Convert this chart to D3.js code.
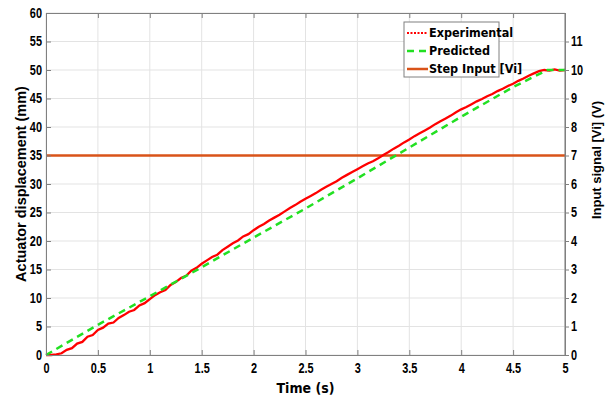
<!DOCTYPE html>
<head>
  <meta charset="utf-8">
  <script src="https://d3js.org/d3.v7.min.js"></script>
  <style>
    body { margin:0; background:#fff; }
    svg { display:block; }
    .tick text { font-family:"Liberation Sans",Arial,sans-serif; font-weight:bold; font-size:14px; fill:#000; }
    .lbl { font-family:"Liberation Sans","Arial",sans-serif; font-weight:bold; }
    .leg { font-family:"DejaVu Sans Condensed","Liberation Sans Narrow",sans-serif; font-weight:bold; font-size:12.5px; }
  </style>
</head>
<body>
<script>
var width = 610, height = 405;
var margin = {top: 13, right: 45, bottom: 50, left: 46};

// experimental displacement (mm), sampled every 0.05 s
var expY = [0,0,0.1,0.3,0.9,1.2,2.0,2.3,3.2,3.5,4.4,4.8,5.5,5.7,6.5,7.0,7.6,7.9,8.7,9.1,
  9.8,10.5,11.0,11.4,12.3,12.8,13.5,13.9,14.8,15.3,16.0,16.6,17.2,17.6,18.4,19.0,19.6,20.1,20.8,21.2,
  21.9,22.5,23.0,23.6,24.1,24.6,25.2,25.8,26.3,26.9,27.4,27.9,28.4,29.0,29.5,30.0,30.5,31.1,31.6,32.1,
  32.6,33.1,33.6,34.0,34.5,35.1,35.6,36.2,36.7,37.3,37.8,38.4,38.9,39.4,39.9,40.5,41.0,41.5,42.0,42.6,
  43.1,43.5,44.0,44.5,44.9,45.4,45.8,46.3,46.7,47.2,47.6,48.1,48.5,49.0,49.4,49.8,50.0,49.9,50.1,49.9,50.0];
var expT = expY.map(function(d, i) { return i * 0.05; });

// predicted displacement (mm)
var prdT = [0, 0.5, 1, 1.5, 2, 2.5, 3, 3.5, 4, 4.5, 4.83, 5];
var prdY = [0, 5.3, 10.3, 15.4, 20.6, 25.7, 31.0, 36.4, 41.8, 47.0, 50, 50];

// step input (V)
var stepT = [0, 5];
var stepV = [7, 7];

var xTicks = [0, 0.5, 1, 1.5, 2, 2.5, 3, 3.5, 4, 4.5, 5];
var yTicks = [0, 5, 10, 15, 20, 25, 30, 35, 40, 45, 50, 55, 60];
var vTicks = [0, 1, 2, 3, 4, 5, 6, 7, 8, 9, 10, 11];

var svg = d3.select("body").append("svg").attr("width", width).attr("height", height);

var x = d3.scaleLinear().domain([0, 5]).range([margin.left, width - margin.right]);
var y = d3.scaleLinear().domain([0, 60]).range([height - margin.bottom, margin.top]);
var yv = d3.scaleLinear().domain([0, 12]).range([height - margin.bottom, margin.top]);

var axisCol = "#808080";
var sx = 0.78; // narrow the tick label glyphs

// grid
svg.append("g").selectAll("line").data(xTicks).enter().append("line")
  .attr("x1", x).attr("x2", x).attr("y1", y(0)).attr("y2", y(60))
  .attr("stroke", "#e3e3e3").attr("stroke-width", 1);
svg.append("g").selectAll("line").data(yTicks).enter().append("line")
  .attr("y1", y).attr("y2", y).attr("x1", x(0)).attr("x2", x(5))
  .attr("stroke", "#e3e3e3").attr("stroke-width", 1);

// series
var line = d3.line();
svg.append("path")
  .attr("d", line(stepT.map(function(t, i) { return [x(t), yv(stepV[i])]; })))
  .attr("fill", "none").attr("stroke", "#D95319").attr("stroke-width", 2.5);

svg.append("path")
  .attr("d", line(expT.map(function(t, i) { return [x(t), y(expY[i])]; })))
  .attr("fill", "none").attr("stroke", "#ff0000").attr("stroke-width", 2.3);

svg.append("path")
  .attr("d", line(prdT.map(function(t, i) { return [x(t), y(prdY[i])]; })))
  .attr("fill", "none").attr("stroke", "#22e022").attr("stroke-width", 2.5)
  .attr("stroke-dasharray", "7,5");

// axes
function styleAxis(g) {
  g.select(".domain").attr("stroke", axisCol);
  g.selectAll(".tick line").attr("stroke", axisCol);
  g.selectAll(".tick text").attr("x", function() {
    var v = +d3.select(this).attr("x") || 0;
    return v / sx;
  }).attr("transform", "scale(" + sx + ",1)");
}
svg.append("g").attr("transform", "translate(0," + y(0) + ")")
  .call(d3.axisBottom(x).tickValues(xTicks).tickSizeInner(-5).tickSizeOuter(0).tickPadding(8)
    .tickFormat(function(d) { return d; }))
  .call(styleAxis);
svg.append("g").attr("transform", "translate(0," + y(60) + ")")
  .call(d3.axisTop(x).tickValues(xTicks).tickSizeInner(-5).tickSizeOuter(0).tickFormat(""))
  .call(styleAxis);
svg.append("g").attr("transform", "translate(" + x(0) + ",0)")
  .call(d3.axisLeft(y).tickValues(yTicks).tickSizeInner(-5).tickSizeOuter(0).tickPadding(4))
  .call(styleAxis);
svg.append("g").attr("transform", "translate(" + x(5) + ",0)")
  .call(d3.axisRight(yv).tickValues(vTicks).tickSizeInner(4).tickSizeOuter(0).tickPadding(2))
  .call(styleAxis);
svg.append("line").attr("x1", x(5)).attr("x2", x(5)).attr("y1", y(0)).attr("y2", y(60))
  .attr("stroke", axisCol);

// labels
svg.append("text").attr("class", "lbl")
  .attr("transform", "translate(21," + ((y(0) + y(60)) / 2) + ") rotate(-90)")
  .attr("text-anchor", "middle").attr("dy", "0.35em").style("font-size", "14.5px")
  .text("Actuator displacement (mm)");
svg.append("text").attr("class", "lbl")
  .attr("transform", "translate(596,160) rotate(-90)")
  .attr("text-anchor", "middle").attr("dy", "0.35em").style("font-size", "13px")
  .text("Input signal [Vi] (V)");
svg.append("text").attr("class", "leg")
  .attr("x", (x(0) + x(5)) / 2).attr("y", 393)
  .attr("text-anchor", "middle").style("font-size", "14px")
  .text("Time (s)");

// legend
var legItems = ["Experimental", "Predicted", "Step Input [Vi]"];
var legStyles = [
  {c: "#ff0000", d: "2,1.5", w: 2},
  {c: "#22e022", d: "7,5", w: 2.5},
  {c: "#D95319", d: null, w: 2.5}
];
var lg = svg.append("g").attr("transform", "translate(404,22)");
lg.append("rect").attr("width", 95).attr("height", 55)
  .attr("fill", "#fff").attr("stroke", "#808080").attr("stroke-width", 1);
legItems.forEach(function(name, i) {
  var yy = 11 + i * 18;
  lg.append("line").attr("x1", 3).attr("x2", 24).attr("y1", yy).attr("y2", yy)
    .attr("stroke", legStyles[i].c).attr("stroke-width", legStyles[i].w)
    .attr("stroke-dasharray", legStyles[i].d);
  lg.append("text").attr("class", "leg").attr("x", 25).attr("y", yy).attr("dy", "0.35em")
    .text(name);
});
</script>
</body>
